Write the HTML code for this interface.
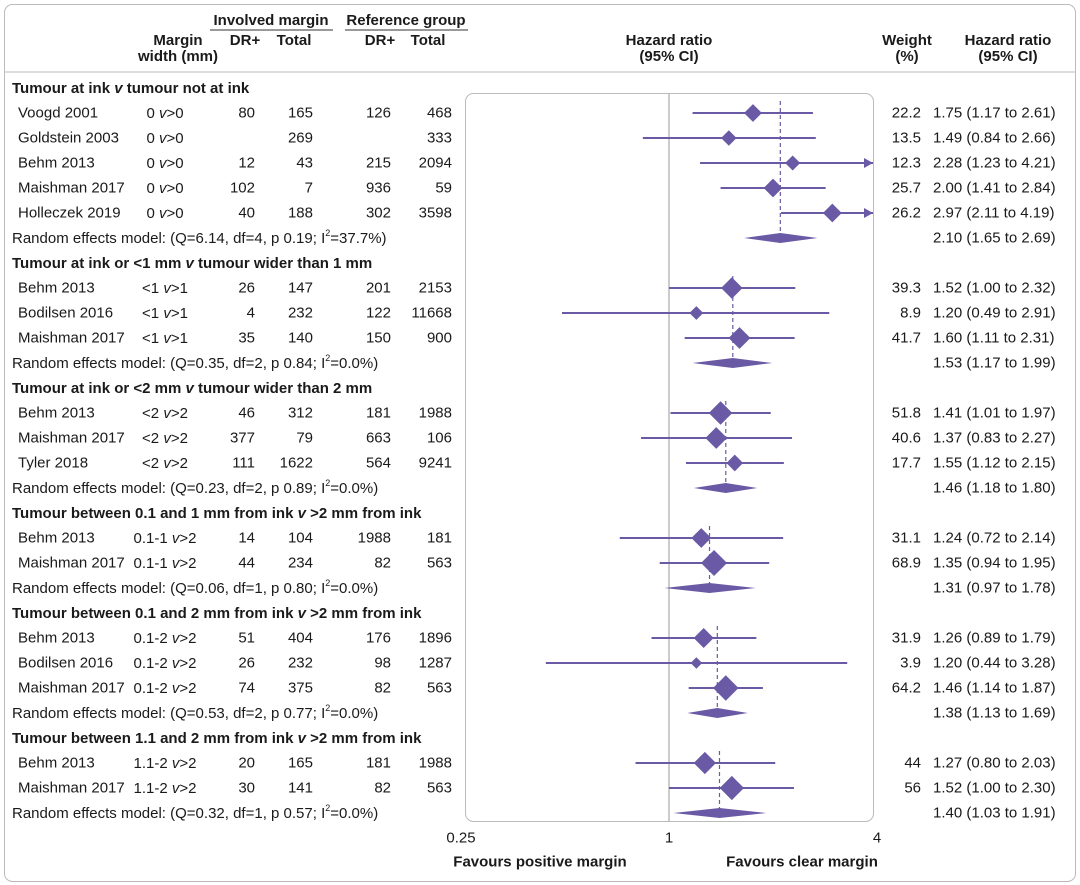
<!DOCTYPE html>
<html><head><meta charset="utf-8">
<style>
html,body{margin:0;padding:0;background:#fff;}
svg{display:block;font-family:"Liberation Sans",sans-serif;font-size:15px;fill:#1a1a1a;}
.b{font-weight:bold;}
</style></head>
<body>
<svg id="chart" width="1080" height="885" viewBox="0 0 1080 885" xmlns="http://www.w3.org/2000/svg">
<rect x="4.5" y="4.5" width="1071" height="877" rx="8" fill="none" stroke="#bbb"/>
<line x1="4" y1="72" x2="1076" y2="72" stroke="#bbb"/>
<g class="b" text-anchor="middle">
<text x="271" y="25">Involved margin</text>
<line x1="210" y1="30" x2="333" y2="30" stroke="#333"/>
<text x="406" y="25">Reference group</text>
<line x1="345" y1="30" x2="468" y2="30" stroke="#333"/>
<text x="178" y="45">Margin</text>
<text x="178" y="61">width (mm)</text>
<text x="245" y="45">DR+</text>
<text x="294" y="45">Total</text>
<text x="380" y="45">DR+</text>
<text x="428" y="45">Total</text>
<text x="669" y="45">Hazard ratio</text>
<text x="669" y="61">(95% CI)</text>
<text x="907" y="45">Weight</text>
<text x="907" y="61">(%)</text>
<text x="1008" y="45">Hazard ratio</text>
<text x="1008" y="61">(95% CI)</text>
</g>
<rect x="465.5" y="93.5" width="408" height="728" rx="8" fill="none" stroke="#bbb"/>
<g id="g"></g>
</svg>
<script>
const sectionTitles=[["Tumour at ink ","v"," tumour not at ink"],["Tumour at ink or <1 mm ","v"," tumour wider than 1 mm"],["Tumour at ink or <2 mm ","v"," tumour wider than 2 mm"],["Tumour between 0.1 and 1 mm from ink ","v"," >2 mm from ink"],["Tumour between 0.1 and 2 mm from ink ","v"," >2 mm from ink"],["Tumour between 1.1 and 2 mm from ink ","v"," >2 mm from ink"]];
const studySection=[0,0,0,0,0,1,1,1,2,2,2,3,3,4,4,4,5,5];
const studyNames=["Voogd 2001","Goldstein 2003","Behm 2013","Maishman 2017","Holleczek 2019","Behm 2013","Bodilsen 2016","Maishman 2017","Behm 2013","Maishman 2017","Tyler 2018","Behm 2013","Maishman 2017","Behm 2013","Bodilsen 2016","Maishman 2017","Behm 2013","Maishman 2017"];
const margins=[["0","0"],["0","0"],["0","0"],["0","0"],["0","0"],["<1","1"],["<1","1"],["<1","1"],["<2","2"],["<2","2"],["<2","2"],["0.1-1","2"],["0.1-1","2"],["0.1-2","2"],["0.1-2","2"],["0.1-2","2"],["1.1-2","2"],["1.1-2","2"]];
const invDR=["80","","12","102","40","26","4","35","46","377","111","14","44","51","26","74","20","30"];
const invTotal=["165","269","43","7","188","147","232","140","312","79","1622","104","234","404","232","375","165","141"];
const refDR=["126","","215","936","302","201","122","150","181","663","564","1988","82","176","98","82","181","82"];
const refTotal=["468","333","2094","59","3598","2153","11668","900","1988","106","9241","181","563","1896","1287","563","1988","563"];
const weights=["22.2","13.5","12.3","25.7","26.2","39.3","8.9","41.7","51.8","40.6","17.7","31.1","68.9","31.9","3.9","64.2","44","56"];
const hr=[1.75,1.49,2.28,2.00,2.97,1.52,1.20,1.60,1.41,1.37,1.55,1.24,1.35,1.26,1.20,1.46,1.27,1.52];
const lo=[1.17,0.84,1.23,1.41,2.11,1.00,0.49,1.11,1.01,0.83,1.12,0.72,0.94,0.89,0.44,1.14,0.80,1.00];
const hi=[2.61,2.66,4.21,2.84,4.19,2.32,2.91,2.31,1.97,2.27,2.15,2.14,1.95,1.79,3.28,1.87,2.03,2.30];
const reText=["(Q=6.14, df=4, p 0.19; I","(Q=0.35, df=2, p 0.84; I","(Q=0.23, df=2, p 0.89; I","(Q=0.06, df=1, p 0.80; I","(Q=0.53, df=2, p 0.77; I","(Q=0.32, df=1, p 0.57; I"];
const reI2=["37.7%)","0.0%)","0.0%)","0.0%)","0.0%)","0.0%)"];
const poolHR=[2.10,1.53,1.46,1.31,1.38,1.40];
const poolLo=[1.65,1.17,1.18,0.97,1.13,1.03];
const poolHi=[2.69,1.99,1.80,1.78,1.69,1.91];
const tickVals=[0.25,1,4];
const tickLabels=["0.25","1","4"];

const NS="http://www.w3.org/2000/svg";
const G=document.getElementById('g');
const COL="#6a5aa5";
const X1=669,PPD=104,XMAX=873;
function xs(v){return X1+Math.log2(v)*PPD;}
function el(t,a,p){const e=document.createElementNS(NS,t);for(const k in a)e.setAttribute(k,a[k]);(p||G).appendChild(e);return e;}
function txt(x,y,s,anchor,cls){const e=el('text',{x:x,y:y,'text-anchor':anchor||'start','dominant-baseline':'central'});if(cls)e.setAttribute('class',cls);e.textContent=s;return e;}
function tspan(p,s,style){const t=document.createElementNS(NS,'tspan');if(style)t.setAttribute('style',style);t.textContent=s;p.appendChild(t);return t;}
function fmt(v){return v.toFixed(2);}

const zl=el('line',{x1:X1,y1:94,x2:X1,y2:821,stroke:'#999'});



let y=88;
for(let s=0;s<sectionTitles.length;s++){
  const t=el('text',{x:12,y:y,'dominant-baseline':'central',class:'b'});
  
  
  tspan(t,sectionTitles[s][0]);tspan(t,sectionTitles[s][1],'font-style:italic');tspan(t,sectionTitles[s][2]);
  y+=25;
  const firstY=y;
  for(let i=0;i<studyNames.length;i++){
    if(studySection[i]!==s)continue;
    const n=txt(18,y,studyNames[i]);
    
    
    const m=el('text',{x:165,y:y,'text-anchor':'middle','dominant-baseline':'central'});
    
    
    tspan(m,margins[i][0]+' ');tspan(m,'v','font-style:italic');tspan(m,'>'+margins[i][1]);
    txt(255,y,invDR[i],'end');txt(313,y,invTotal[i],'end');txt(391,y,refDR[i],'end');txt(452,y,refTotal[i],'end');
    const w=txt(921,y,weights[i],'end');
    
    
    const h=txt(933,y,fmt(hr[i])+' ('+fmt(lo[i])+' to '+fmt(hi[i])+')');
    
    
    const xl=xs(lo[i]),xh=Math.min(xs(hi[i]),XMAX);
    const ln=el('line',{x1:xl,y1:y,x2:xh,y2:y,stroke:COL,'stroke-width':2});
    
    
    if(xs(hi[i])>XMAX){
      const ar=el('polygon',{points:(XMAX-9)+','+(y-5)+' '+XMAX+','+y+' '+(XMAX-9)+','+(y+5),fill:COL});
      
      
    }
    const r=3.5+Math.sqrt(parseFloat(weights[i]))*1.15,cx=xs(hr[i]);
    const d=el('polygon',{points:(cx-r)+','+y+' '+cx+','+(y-r)+' '+(cx+r)+','+y+' '+cx+','+(y+r),fill:COL});
    
    
    y+=25;
  }
  const re=el('text',{x:12,y:y,'dominant-baseline':'central'});
  
  
  tspan(re,'Random effects model: '+reText[s]);tspan(re,'2','font-size:9px;baseline-shift:super');tspan(re,'='+reI2[s]);
  const ph=txt(933,y,fmt(poolHR[s])+' ('+fmt(poolLo[s])+' to '+fmt(poolHi[s])+')');
  
  
  const pc=xs(poolHR[s]);
  const dl=el('line',{x1:pc,y1:firstY-12,x2:pc,y2:y,stroke:COL,'stroke-width':1.2,'stroke-dasharray':'4,3'});
  
  
  const pd=el('polygon',{points:xs(poolLo[s])+','+y+' '+pc+','+(y-5)+' '+xs(poolHi[s])+','+y+' '+pc+','+(y+5),fill:COL});
  
  
  y+=25;
}
for(let i=0;i<tickVals.length;i++){
  const t=txt(xs(tickVals[i]),838,tickLabels[i],'middle');
  
  
}
const f1=txt(540,862,'Favours positive margin','middle','b');


const f2=txt(802,862,'Favours clear margin','middle','b');


</script>
</body></html>
